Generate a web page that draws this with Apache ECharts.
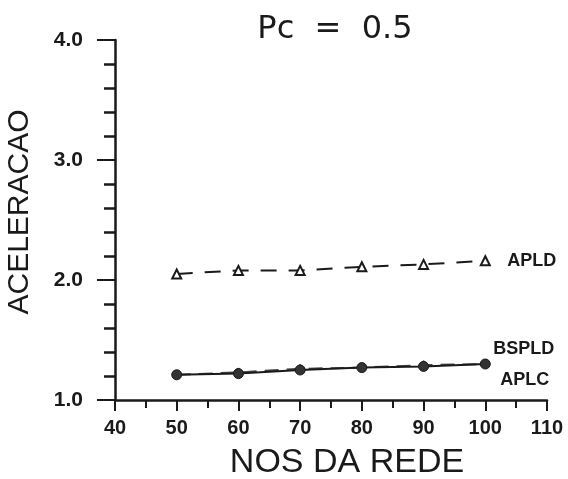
<!DOCTYPE html>
<html><head><meta charset="utf-8">
<script src="https://cdn.jsdelivr.net/npm/echarts@6/dist/echarts.min.js"></script>
<style>html,body{margin:0;padding:0;background:#fff}#c{width:568px;height:479px}</style>
</head><body><div id="c"></div>
<script>
const nodes = [50, 60, 70, 80, 90, 100];
const apld = [2.05, 2.08, 2.08, 2.11, 2.13, 2.16];
const bspld = [1.21, 1.23, 1.26, 1.27, 1.29, 1.30];
const aplc = [1.21, 1.22, 1.25, 1.27, 1.28, 1.30];
const xTicks = [40, 50, 60, 70, 80, 90, 100, 110];
const yTicks = [1.0, 2.0, 3.0, 4.0];
const title = 'Pc  =  0.5';
const xName = 'NOS DA REDE';
const yName = 'ACELERACAO';

const pair = (arr) => nodes.map((n, i) => [n, arr[i]]);
const ink = '#1a1a1a';
const chart = echarts.init(document.getElementById('c'), null, {renderer: 'canvas'});
chart.setOption({
  backgroundColor: '#fff',
  animation: false,
  title: {text: title, left: 330, top: 9, textAlign: 'center',
    textStyle: {fontFamily: 'DejaVu Sans', fontWeight: 'normal', fontSize: 32, color: ink}},
  grid: {left: 115, right: 21, top: 40, bottom: 79, containLabel: false, outerBoundsMode: 'none'},
  xAxis: {type: 'value', min: xTicks[0], max: xTicks[xTicks.length - 1], interval: 10,
    name: xName, nameLocation: 'middle', nameGap: 46,
    nameTextStyle: {fontFamily: 'Liberation Sans', fontSize: 34, color: ink, padding: [0, 0, 0, 32]},
    axisLine: {lineStyle: {color: ink, width: 2.5}},
    axisTick: {show: true, inside: false, length: 11, lineStyle: {color: ink, width: 2}},
    minorTick: {show: true, splitNumber: 2, length: 8, lineStyle: {color: ink, width: 2}},
    splitLine: {show: false},
    axisLabel: {margin: 18, fontFamily: 'Liberation Sans', fontWeight: 'bold', fontSize: 20, color: ink}},
  yAxis: {type: 'value', min: yTicks[0], max: yTicks[yTicks.length - 1], interval: 1,
    name: yName, nameLocation: 'middle', nameGap: 80, nameRotate: 90,
    nameTextStyle: {fontFamily: 'Liberation Sans', fontSize: 30, color: ink, padding: [0, 0, 0, 16]},
    axisLine: {show: true, lineStyle: {color: ink, width: 2.5}},
    axisTick: {show: true, inside: false, length: 18, lineStyle: {color: ink, width: 2}},
    minorTick: {show: true, splitNumber: 5, length: 11, lineStyle: {color: ink, width: 2.5}},
    splitLine: {show: false},
    axisLabel: {margin: 32, fontFamily: 'Liberation Sans', fontWeight: 'bold', fontSize: 21, color: ink,
      formatter: (v) => v.toFixed(1)}},
  series: [
    {name: 'APLD', type: 'line', data: pair(apld), symbol: 'triangle', symbolSize: 9,
      itemStyle: {color: '#fff', borderColor: ink, borderWidth: 2},
      lineStyle: {color: ink, width: 2, type: [16, 12]},
      endLabel: {show: true, formatter: '{a}', distance: 22, offset: [0, 0],
        fontFamily: 'Liberation Sans', fontWeight: 'bold', fontSize: 18, color: ink}},
    {name: 'BSPLD', type: 'line', data: pair(bspld), symbol: 'diamond', symbolSize: 9,
      itemStyle: {color: '#555', borderColor: ink, borderWidth: 1},
      lineStyle: {color: '#444', width: 2, type: [14, 8]},
      endLabel: {show: true, formatter: '{a}', distance: 8, offset: [0, -15],
        fontFamily: 'Liberation Sans', fontWeight: 'bold', fontSize: 18, color: ink}},
    {name: 'APLC', type: 'line', data: pair(aplc), symbol: 'circle', symbolSize: 10,
      itemStyle: {color: '#333', borderColor: ink, borderWidth: 1},
      lineStyle: {color: ink, width: 2},
      endLabel: {show: true, formatter: '{a}', distance: 15, offset: [0, 16],
        fontFamily: 'Liberation Sans', fontWeight: 'bold', fontSize: 18, color: ink}}
  ]
});
</script></body></html>
